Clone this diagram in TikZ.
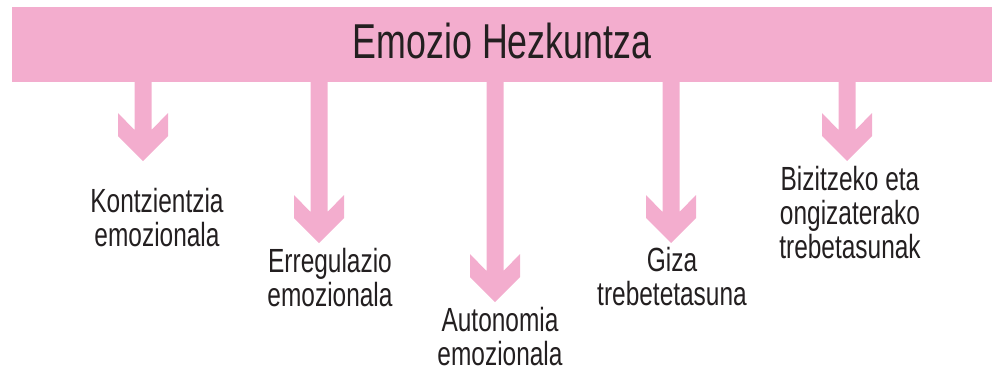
\documentclass[tikz,border=0pt]{standalone}
\usepackage{fontspec}
\setmainfont{Liberation Sans}[FakeStretch=0.73]
\usetikzlibrary{positioning}
\definecolor{arrosa}{RGB}{243,173,206}
\definecolor{beltza}{RGB}{35,31,32}
\newcommand{\gezia}{\fill[arrosa] (0,0) -- (-25,-25) -- (-25,-48) -- (-8.5,-31)
					-- (-8.5,-31 |- banda.south) -- (8.5,-31 |- banda.south)
					-- (8.5,-31) -- (25,-48) -- (25,-25) -- cycle;}

\begin{document}
\begin{tikzpicture}[x=1pt,y=-1pt,
	testua/.style={text=beltza, align=center, inner sep=0pt, anchor=base,
		font=\fontsize{33.5}{34}\selectfont}]

	\useasboundingbox (0,0) rectangle (997,370);

	% goiko banda
	\node[fill=arrosa, minimum width=980pt, minimum height=75pt, inner sep=0pt] (banda) at (502,44.5) {};
	\node[text=beltza, inner sep=0pt, anchor=base, font=\fontsize{49}{50}\selectfont] (izenburua) at (502,58) {Emozio Hezkuntza};

	% geziak
	\coordinate (punta1) at (143,161);
	\coordinate (punta2) at (319,243);
	\coordinate (punta3) at (495,302);
	\coordinate (punta4) at (671,243);
	\coordinate (punta5) at (847,161);

	\foreach \i in {1,...,5}{
		\begin{scope}[shift={(punta\i)}]
			\gezia
		\end{scope}
	}

	% testuak (base = azken lerroa)
	\node[testua] (kontzientzia) at (157,246) {Kontzientzia\\emozionala};
	\node[testua] (erregulazio) at (330,306) {Erregulazio\\emozionala};
	\node[testua] (autonomia) at (500,365) {Autonomia\\emozionala};
	\node[testua] (giza) at (672,305) {Giza\\trebetetasuna};
	\node[testua] (bizitzeko) at (850,258) {Bizitzeko eta\\ongizaterako\\trebetasunak};

\end{tikzpicture}
\end{document}
